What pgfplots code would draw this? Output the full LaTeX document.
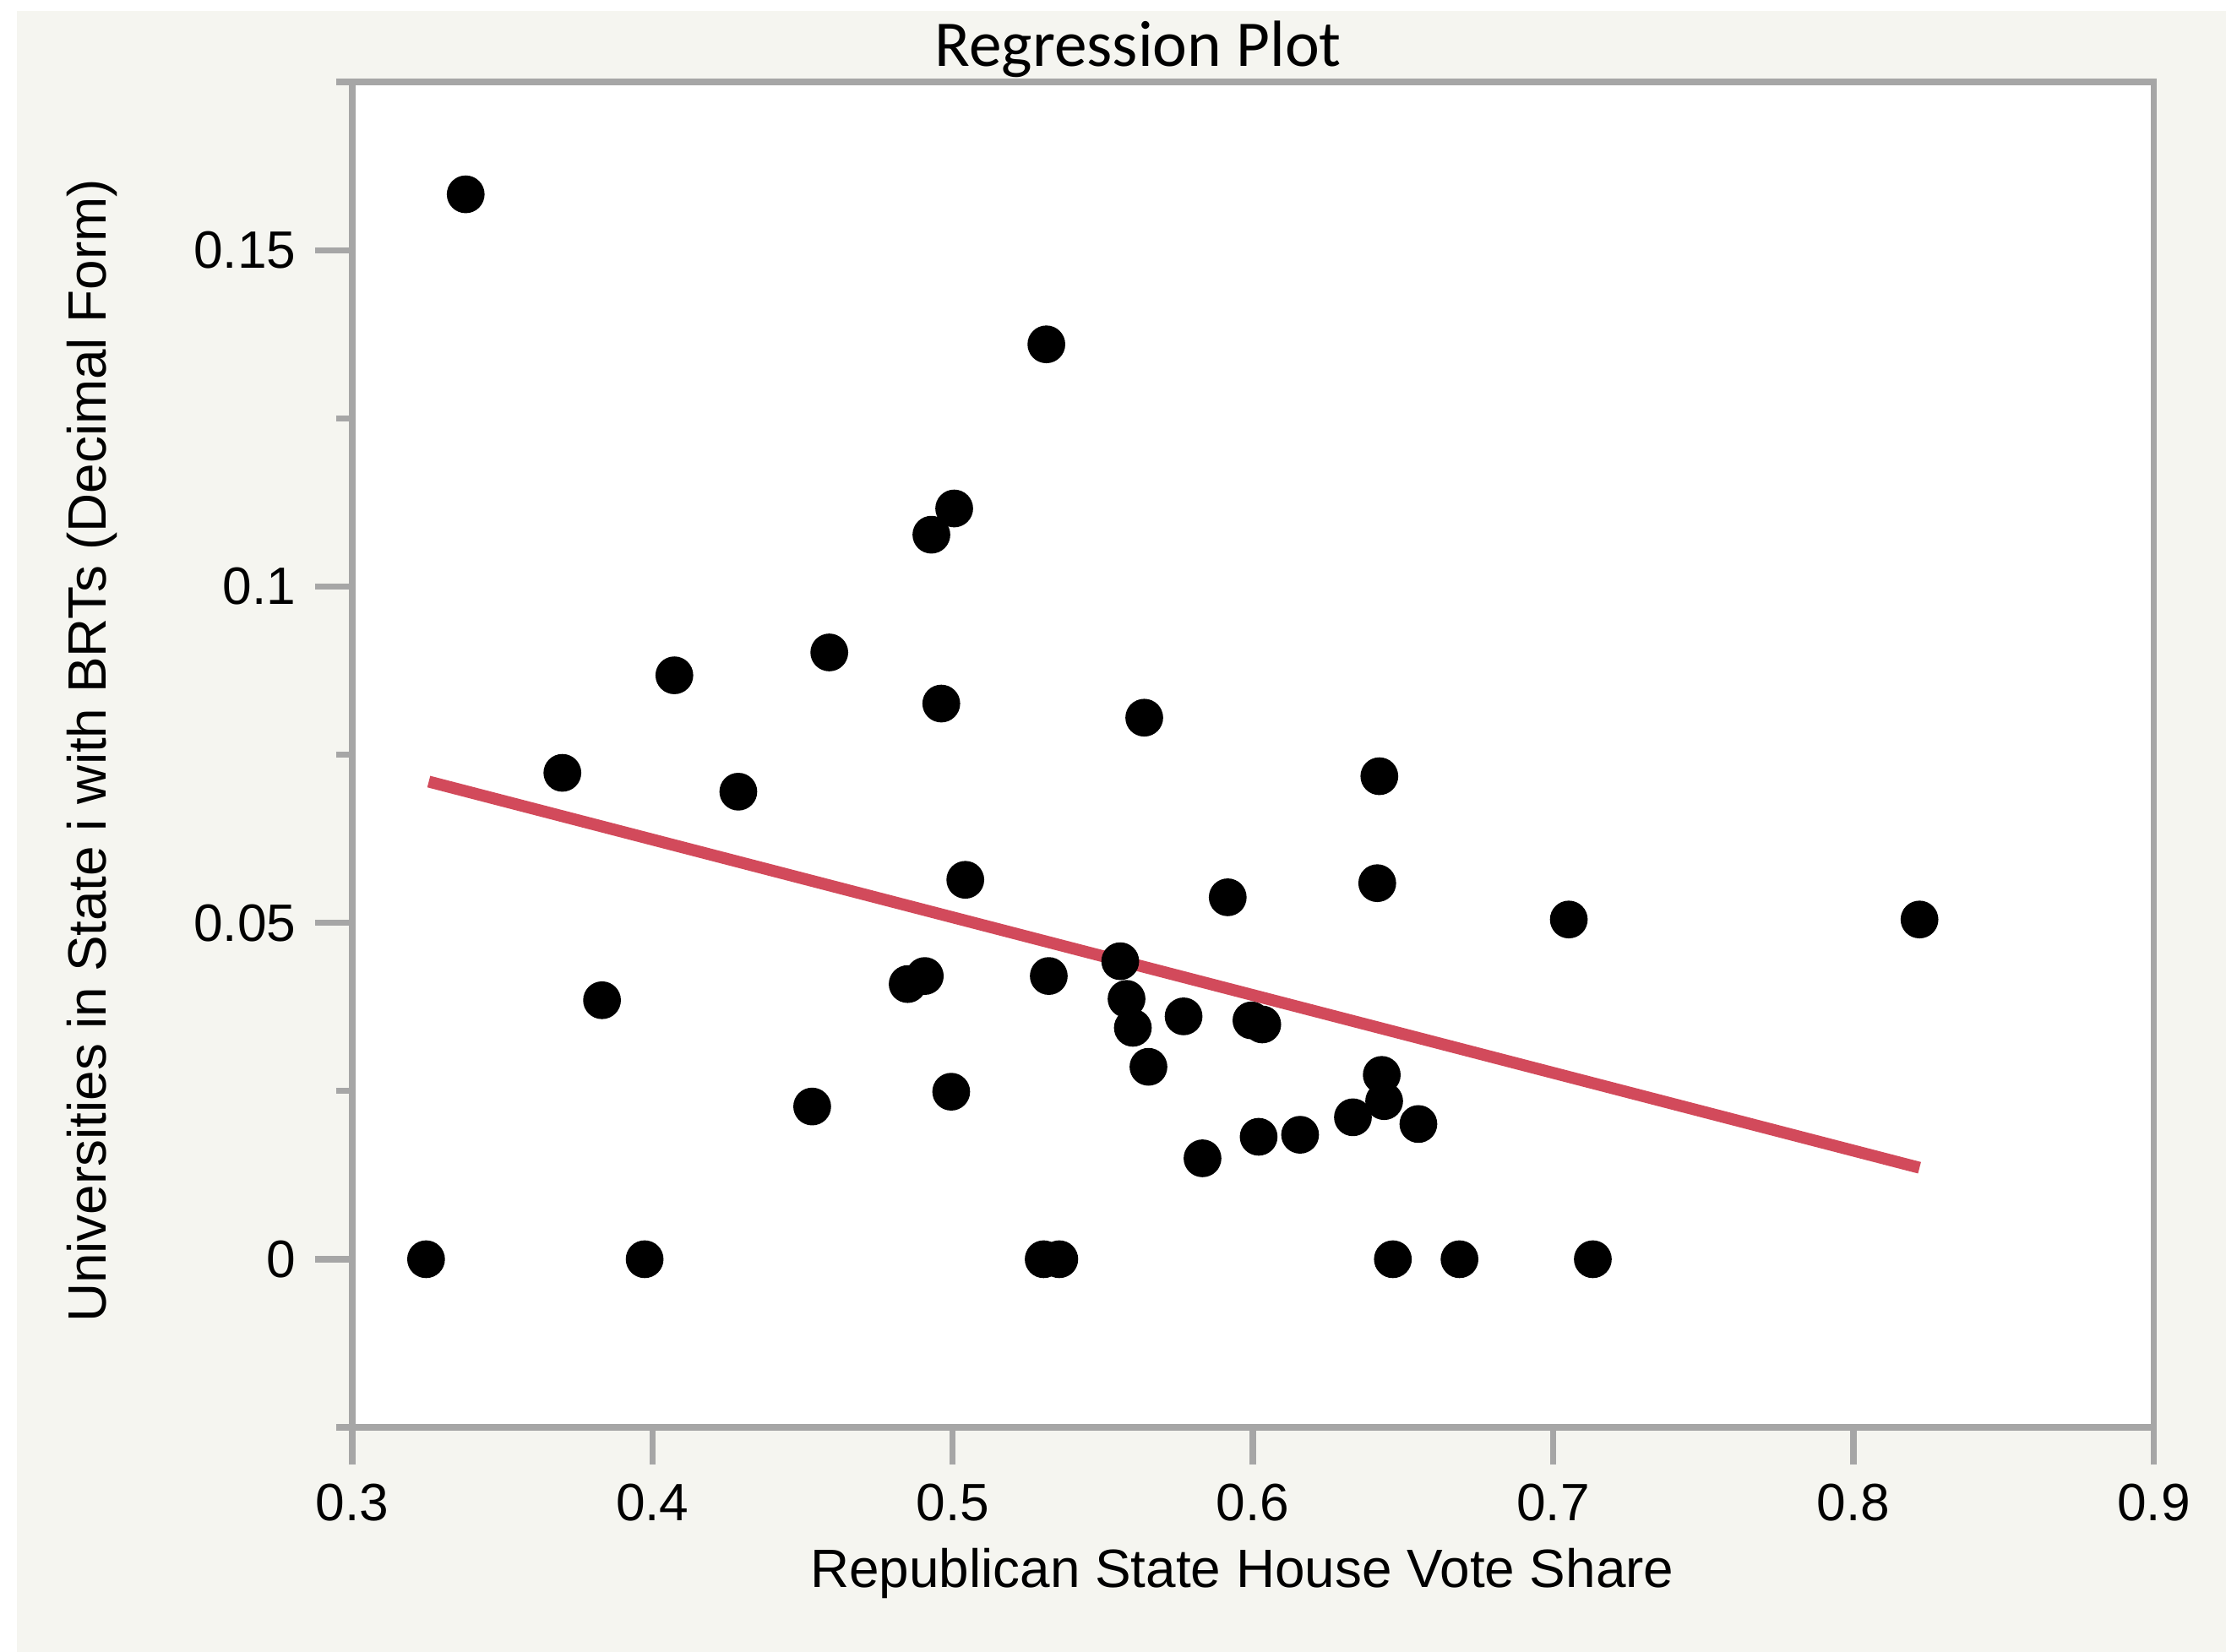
\documentclass[border=0pt]{standalone}
\usepackage{fontspec}
\setmainfont{Liberation Sans}
\newfontfamily\titlefont{Carlito}
\usepackage{pgfplots}
\usepackage{pgfplotstable}
\pgfplotsset{compat=1.18}

\definecolor{framegray}{RGB}{166,166,166}
\definecolor{pagebg}{RGB}{245,245,240}
\definecolor{fitred}{RGB}{210,74,91}

% vote share vs. share of universities with BRTs
\pgfplotstableread{
x       y
0.3246  0.0
0.3378  0.1583
0.3700  0.0723
0.3832  0.0385
0.3974  0.0
0.4073  0.0868
0.4286  0.0695
0.4532  0.0227
0.4589  0.0902
0.4850  0.0409
0.4907  0.0421
0.4929  0.1077
0.4962  0.0826
0.4995  0.0249
0.5005  0.1116
0.5042  0.0564
0.5303  0.0
0.5312  0.1360
0.5320  0.0421
0.5355  0.0
0.5558  0.0443
0.5579  0.0387
0.5600  0.0344
0.5638  0.0805
0.5652  0.0286
0.5769  0.0361
0.5832  0.0150
0.5916  0.0538
0.5995  0.0355
0.6019  0.0182
0.6031  0.0349
0.6157  0.0185
0.6333  0.0211
0.6414  0.0559
0.6421  0.0718
0.6429  0.0274
0.6437  0.0235
0.6466  0.0
0.6551  0.0201
0.6688  0.0
0.7052  0.0505
0.7132  0.0
0.8220  0.0505
}\pointdata

\begin{document}
\begin{tikzpicture}
\fill[white] (-65.3pt,-41.6pt) rectangle (347.4pt,264.7pt);
\fill[pagebg] (-62.1pt,-41.6pt) rectangle (347.4pt,262.6pt);
\begin{axis}[
  at={(0,0)}, anchor=south west,
  scale only axis,
  width=334.0pt, height=249.5pt,
  xmin=0.3, xmax=0.9,
  ymin=-0.025, ymax=0.175,
  axis background/.style={fill=white},
  xtick={0.3,0.4,0.5,0.6,0.7,0.8,0.9},
  ytick={0,0.05,0.1,0.15},
  minor ytick={-0.025,0.025,0.075,0.125,0.175},
  xtick pos=bottom, ytick pos=left,
  tick align=outside,
  major tick length=6.9pt,
  minor tick length=3.0pt,
  axis line style={framegray, line width=1.15pt},
  every tick/.style={framegray, line width=1.15pt},
  scaled y ticks=false,
  /pgf/number format/assume math mode=true,
  yticklabel style={/pgf/number format/fixed, /pgf/number format/precision=3},
  ticklabel style={font=\fontsize{9.75}{11}\selectfont},
  xlabel={Republican State House Vote Share},
  ylabel={Universities in State i with BRTs (Decimal Form)},
  label style={font=\fontsize{10}{12}\selectfont},
  xlabel style={at={([yshift=-29.6pt]axis description cs:0.494,0)}, anchor=base},
  ylabel style={at={([xshift=-45.7pt]axis description cs:0,0.503)}, anchor=base},
]
\addplot[only marks, mark=*, mark size=3.3pt, black] table[x=x, y=y] {\pointdata};
\addplot[fitred, line width=2.2pt] coordinates {(0.3255,0.0710) (0.8220,0.0136)};
\end{axis}
\node[anchor=base, font=\titlefont\fontsize{12.1}{14}\selectfont] at (145.7pt,252.4pt) {Regression Plot};
\pgfresetboundingbox
\path[use as bounding box] (-65.3pt,-41.6pt) rectangle (347.4pt,264.7pt);
\end{tikzpicture}
\end{document}
